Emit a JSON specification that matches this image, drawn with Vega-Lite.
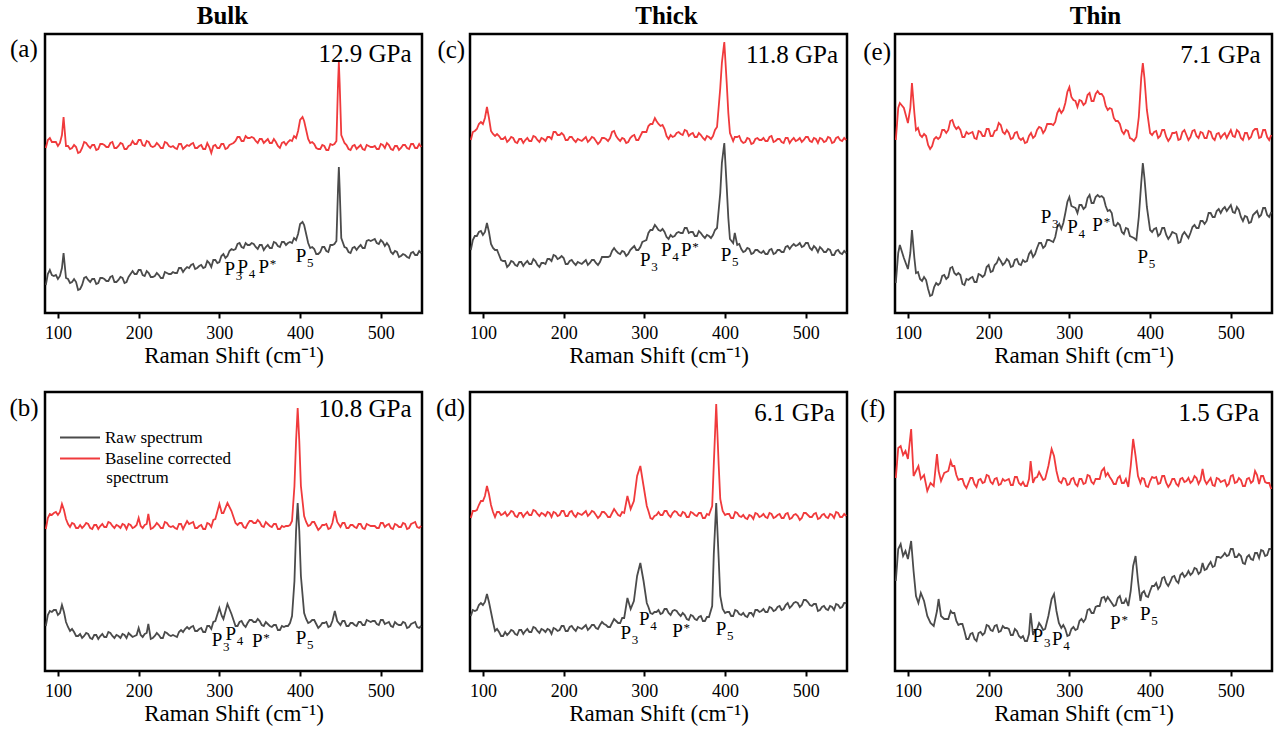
{
"$schema": "https://vega.github.io/schema/vega-lite/v6.json",
"background": "white",
"padding": {"left": 8, "top": 2, "right": 5, "bottom": 5},
"config": {
  "font": "Liberation Serif",
  "view": {"stroke": "black", "strokeWidth": 2.5},
  "axis": {"labelFont": "Liberation Serif", "titleFont": "Liberation Serif"},
  "axisX": {"domain": false, "grid": false, "tickSize": 5, "tickWidth": 2, "tickColor": "black", "labelFontSize": 18, "labelColor": "black", "labelPadding": 6, "titleFontSize": 23, "titleFontWeight": "normal", "titleColor": "black", "titlePadding": 2, "labelFlush": false, "labelOverlap": false},
  "legend": {"labelFont": "Liberation Serif", "titleFont": "Liberation Serif"},
  "title": {"font": "Liberation Serif", "fontSize": 25, "fontWeight": "bold", "offset": 5, "color": "black"},
  "text": {"color": "black", "font": "Liberation Serif"}
},
"datasets": {
"spec": [
{"p":"a","x":85,"r":28,"c":165},{"p":"a","x":90,"r":43,"c":175},{"p":"a","x":95,"r":37,"c":171},{"p":"a","x":100,"r":34,"c":167},{"p":"a","x":105,"r":45,"c":178},{"p":"a","x":107,"r":60,"c":196},{"p":"a","x":110,"r":35,"c":167},{"p":"a","x":115,"r":30,"c":164},{"p":"a","x":120,"r":34,"c":168},{"p":"a","x":125,"r":23,"c":160},{"p":"a","x":130,"r":28,"c":165},{"p":"a","x":135,"r":36,"c":170},{"p":"a","x":140,"r":31,"c":165},{"p":"a","x":145,"r":34,"c":168},{"p":"a","x":150,"r":30,"c":164},{"p":"a","x":155,"r":35,"c":169},{"p":"a","x":160,"r":32,"c":166},{"p":"a","x":165,"r":36,"c":170},{"p":"a","x":170,"r":31,"c":165},{"p":"a","x":175,"r":33,"c":167},{"p":"a","x":180,"r":35,"c":169},{"p":"a","x":185,"r":31,"c":164},{"p":"a","x":190,"r":39,"c":168},{"p":"a","x":195,"r":39,"c":169},{"p":"a","x":200,"r":43,"c":173},{"p":"a","x":205,"r":38,"c":168},{"p":"a","x":210,"r":42,"c":172},{"p":"a","x":215,"r":36,"c":167},{"p":"a","x":220,"r":37,"c":167},{"p":"a","x":225,"r":38,"c":168},{"p":"a","x":230,"r":35,"c":165},{"p":"a","x":235,"r":40,"c":170},{"p":"a","x":240,"r":39,"c":166},{"p":"a","x":245,"r":40,"c":165},{"p":"a","x":250,"r":45,"c":169},{"p":"a","x":255,"r":41,"c":164},{"p":"a","x":260,"r":46,"c":168},{"p":"a","x":265,"r":48,"c":169},{"p":"a","x":270,"r":44,"c":165},{"p":"a","x":275,"r":47,"c":167},{"p":"a","x":280,"r":45,"c":164},{"p":"a","x":285,"r":52,"c":170},{"p":"a","x":290,"r":46,"c":160},{"p":"a","x":295,"r":53,"c":168},{"p":"a","x":300,"r":51,"c":165},{"p":"a","x":305,"r":59,"c":169},{"p":"a","x":310,"r":57,"c":165},{"p":"a","x":315,"r":64,"c":169},{"p":"a","x":320,"r":64,"c":172},{"p":"a","x":325,"r":70,"c":176},{"p":"a","x":330,"r":65,"c":172},{"p":"a","x":335,"r":68,"c":175},{"p":"a","x":340,"r":70,"c":176},{"p":"a","x":345,"r":66,"c":172},{"p":"a","x":350,"r":68,"c":174},{"p":"a","x":355,"r":63,"c":170},{"p":"a","x":360,"r":68,"c":174},{"p":"a","x":365,"r":65,"c":170},{"p":"a","x":370,"r":70,"c":171},{"p":"a","x":375,"r":66,"c":165},{"p":"a","x":380,"r":71,"c":171},{"p":"a","x":385,"r":70,"c":171},{"p":"a","x":390,"r":70,"c":172},{"p":"a","x":395,"r":73,"c":175},{"p":"a","x":400,"r":89,"c":193},{"p":"a","x":403,"r":91,"c":196},{"p":"a","x":405,"r":88,"c":192},{"p":"a","x":410,"r":70,"c":174},{"p":"a","x":415,"r":66,"c":171},{"p":"a","x":420,"r":59,"c":165},{"p":"a","x":425,"r":61,"c":164},{"p":"a","x":430,"r":66,"c":167},{"p":"a","x":435,"r":61,"c":163},{"p":"a","x":440,"r":68,"c":168},{"p":"a","x":445,"r":72,"c":172},{"p":"a","x":447,"r":125,"c":230},{"p":"a","x":448,"r":146,"c":251},{"p":"a","x":449,"r":125,"c":230},{"p":"a","x":451,"r":75,"c":178},{"p":"a","x":455,"r":66,"c":170},{"p":"a","x":460,"r":61,"c":164},{"p":"a","x":465,"r":65,"c":167},{"p":"a","x":470,"r":63,"c":164},{"p":"a","x":475,"r":68,"c":168},{"p":"a","x":480,"r":65,"c":163},{"p":"a","x":485,"r":73,"c":167},{"p":"a","x":490,"r":73,"c":166},{"p":"a","x":495,"r":70,"c":164},{"p":"a","x":500,"r":73,"c":169},{"p":"a","x":505,"r":67,"c":165},{"p":"a","x":510,"r":67,"c":168},{"p":"a","x":515,"r":59,"c":163},{"p":"a","x":520,"r":61,"c":167},{"p":"a","x":525,"r":57,"c":165},{"p":"a","x":530,"r":58,"c":168},{"p":"a","x":535,"r":55,"c":164},{"p":"a","x":540,"r":61,"c":169},{"p":"a","x":545,"r":58,"c":165},{"p":"a","x":550,"r":60,"c":166},
{"p":"a","x":87.5,"r":39,"c":173},{"p":"a","x":92.5,"r":38,"c":171},{"p":"a","x":97.5,"r":38,"c":171},{"p":"a","x":102.5,"r":37,"c":170},{"p":"a","x":112.5,"r":34,"c":167},{"p":"a","x":117.5,"r":31,"c":165},{"p":"a","x":122.5,"r":31,"c":166},{"p":"a","x":127.5,"r":24,"c":161},{"p":"a","x":132.5,"r":35,"c":171},{"p":"a","x":137.5,"r":33,"c":167},{"p":"a","x":142.5,"r":34,"c":168},{"p":"a","x":147.5,"r":29,"c":163},{"p":"a","x":152.5,"r":35,"c":169},{"p":"a","x":157.5,"r":34,"c":168},{"p":"a","x":162.5,"r":32,"c":166},{"p":"a","x":167.5,"r":37,"c":171},{"p":"a","x":172.5,"r":31,"c":165},{"p":"a","x":177.5,"r":36,"c":170},{"p":"a","x":182.5,"r":30,"c":164},{"p":"a","x":187.5,"r":36,"c":167},{"p":"a","x":192.5,"r":42,"c":172},{"p":"a","x":197.5,"r":39,"c":169},{"p":"a","x":202.5,"r":43,"c":173},{"p":"a","x":207.5,"r":37,"c":167},{"p":"a","x":212.5,"r":40,"c":171},{"p":"a","x":217.5,"r":36,"c":166},{"p":"a","x":222.5,"r":40,"c":170},{"p":"a","x":227.5,"r":35,"c":165},{"p":"a","x":232.5,"r":41,"c":171},{"p":"a","x":237.5,"r":39,"c":167},{"p":"a","x":242.5,"r":41,"c":167},{"p":"a","x":247.5,"r":40,"c":164},{"p":"a","x":252.5,"r":45,"c":169},{"p":"a","x":257.5,"r":44,"c":166},{"p":"a","x":262.5,"r":45,"c":167},{"p":"a","x":267.5,"r":49,"c":170},{"p":"a","x":272.5,"r":45,"c":165},{"p":"a","x":277.5,"r":48,"c":168},{"p":"a","x":282.5,"r":46,"c":164},{"p":"a","x":287.5,"r":50,"c":166},{"p":"a","x":292.5,"r":53,"c":167},{"p":"a","x":297.5,"r":50,"c":165},{"p":"a","x":302.5,"r":57,"c":169},{"p":"a","x":307.5,"r":55,"c":164},{"p":"a","x":312.5,"r":62,"c":168},{"p":"a","x":317.5,"r":63,"c":170},{"p":"a","x":322.5,"r":69,"c":176},{"p":"a","x":327.5,"r":66,"c":172},{"p":"a","x":332.5,"r":70,"c":177},{"p":"a","x":337.5,"r":68,"c":175},{"p":"a","x":342.5,"r":69,"c":175},{"p":"a","x":347.5,"r":64,"c":170},{"p":"a","x":352.5,"r":68,"c":174},{"p":"a","x":357.5,"r":66,"c":172},{"p":"a","x":362.5,"r":65,"c":170},{"p":"a","x":367.5,"r":71,"c":174},{"p":"a","x":372.5,"r":67,"c":167},{"p":"a","x":377.5,"r":71,"c":170},{"p":"a","x":382.5,"r":68,"c":168},{"p":"a","x":387.5,"r":71,"c":173},{"p":"a","x":392.5,"r":75,"c":177},{"p":"a","x":397.5,"r":79,"c":182},{"p":"a","x":407.5,"r":79,"c":183},{"p":"a","x":412.5,"r":65,"c":170},{"p":"a","x":417.5,"r":64,"c":169},{"p":"a","x":422.5,"r":59,"c":164},{"p":"a","x":427.5,"r":66,"c":168},{"p":"a","x":432.5,"r":62,"c":163},{"p":"a","x":437.5,"r":68,"c":169},{"p":"a","x":442.5,"r":69,"c":169},{"p":"a","x":457.5,"r":65,"c":168},{"p":"a","x":462.5,"r":60,"c":163},{"p":"a","x":467.5,"r":66,"c":168},{"p":"a","x":472.5,"r":66,"c":166},{"p":"a","x":477.5,"r":65,"c":164},{"p":"a","x":482.5,"r":72,"c":168},{"p":"a","x":487.5,"r":72,"c":166},{"p":"a","x":492.5,"r":74,"c":167},{"p":"a","x":497.5,"r":69,"c":164},{"p":"a","x":502.5,"r":71,"c":168},{"p":"a","x":507.5,"r":70,"c":170},{"p":"a","x":512.5,"r":61,"c":164},{"p":"a","x":517.5,"r":62,"c":167},{"p":"a","x":522.5,"r":56,"c":163},{"p":"a","x":527.5,"r":59,"c":168},{"p":"a","x":532.5,"r":56,"c":165},{"p":"a","x":537.5,"r":60,"c":169},{"p":"a","x":542.5,"r":58,"c":165},{"p":"a","x":547.5,"r":62,"c":169},
{"p":"b","x":85,"r":45,"c":142},{"p":"b","x":90,"r":60,"c":157},{"p":"b","x":95,"r":61,"c":158},{"p":"b","x":100,"r":56,"c":156},{"p":"b","x":105,"r":66,"c":167},{"p":"b","x":110,"r":49,"c":152},{"p":"b","x":115,"r":40,"c":144},{"p":"b","x":120,"r":39,"c":147},{"p":"b","x":125,"r":35,"c":143},{"p":"b","x":130,"r":33,"c":143},{"p":"b","x":135,"r":38,"c":148},{"p":"b","x":140,"r":33,"c":143},{"p":"b","x":145,"r":36,"c":146},{"p":"b","x":150,"r":32,"c":142},{"p":"b","x":155,"r":37,"c":147},{"p":"b","x":160,"r":34,"c":144},{"p":"b","x":165,"r":38,"c":148},{"p":"b","x":170,"r":33,"c":143},{"p":"b","x":175,"r":35,"c":145},{"p":"b","x":180,"r":37,"c":147},{"p":"b","x":185,"r":33,"c":142},{"p":"b","x":190,"r":36,"c":146},{"p":"b","x":195,"r":35,"c":144},{"p":"b","x":200,"r":43,"c":153},{"p":"b","x":205,"r":34,"c":143},{"p":"b","x":210,"r":38,"c":147},{"p":"b","x":212,"r":47,"c":157},{"p":"b","x":215,"r":32,"c":142},{"p":"b","x":220,"r":35,"c":145},{"p":"b","x":225,"r":36,"c":146},{"p":"b","x":230,"r":33,"c":143},{"p":"b","x":235,"r":38,"c":148},{"p":"b","x":240,"r":35,"c":144},{"p":"b","x":245,"r":35,"c":143},{"p":"b","x":250,"r":39,"c":147},{"p":"b","x":255,"r":39,"c":142},{"p":"b","x":260,"r":44,"c":150},{"p":"b","x":265,"r":44,"c":148},{"p":"b","x":270,"r":40,"c":143},{"p":"b","x":275,"r":42,"c":145},{"p":"b","x":280,"r":39,"c":142},{"p":"b","x":285,"r":45,"c":148},{"p":"b","x":290,"r":42,"c":144},{"p":"b","x":295,"r":50,"c":152},{"p":"b","x":300,"r":63,"c":167},{"p":"b","x":303,"r":55,"c":158},{"p":"b","x":305,"r":52,"c":158},{"p":"b","x":310,"r":67,"c":168},{"p":"b","x":315,"r":57,"c":160},{"p":"b","x":320,"r":45,"c":148},{"p":"b","x":325,"r":49,"c":148},{"p":"b","x":330,"r":46,"c":144},{"p":"b","x":335,"r":48,"c":147},{"p":"b","x":340,"r":51,"c":150},{"p":"b","x":345,"r":49,"c":148},{"p":"b","x":350,"r":50,"c":149},{"p":"b","x":355,"r":45,"c":144},{"p":"b","x":360,"r":47,"c":147},{"p":"b","x":365,"r":44,"c":144},{"p":"b","x":370,"r":46,"c":147},{"p":"b","x":375,"r":41,"c":142},{"p":"b","x":380,"r":44,"c":144},{"p":"b","x":385,"r":45,"c":145},{"p":"b","x":390,"r":55,"c":150},{"p":"b","x":393,"r":90,"c":185},{"p":"b","x":395,"r":140,"c":230},{"p":"b","x":397,"r":168,"c":263},{"p":"b","x":399,"r":140,"c":230},{"p":"b","x":401,"r":95,"c":185},{"p":"b","x":405,"r":58,"c":155},{"p":"b","x":410,"r":48,"c":145},{"p":"b","x":415,"r":51,"c":149},{"p":"b","x":420,"r":47,"c":145},{"p":"b","x":425,"r":45,"c":143},{"p":"b","x":430,"r":48,"c":146},{"p":"b","x":435,"r":44,"c":142},{"p":"b","x":440,"r":50,"c":148},{"p":"b","x":443,"r":60,"c":160},{"p":"b","x":446,"r":50,"c":149},{"p":"b","x":450,"r":46,"c":144},{"p":"b","x":455,"r":50,"c":148},{"p":"b","x":460,"r":45,"c":143},{"p":"b","x":465,"r":48,"c":146},{"p":"b","x":470,"r":45,"c":143},{"p":"b","x":475,"r":49,"c":147},{"p":"b","x":480,"r":46,"c":142},{"p":"b","x":485,"r":50,"c":146},{"p":"b","x":490,"r":50,"c":145},{"p":"b","x":495,"r":47,"c":143},{"p":"b","x":500,"r":51,"c":148},{"p":"b","x":505,"r":47,"c":144},{"p":"b","x":510,"r":49,"c":147},{"p":"b","x":515,"r":44,"c":142},{"p":"b","x":520,"r":47,"c":146},{"p":"b","x":525,"r":46,"c":144},{"p":"b","x":530,"r":48,"c":147},{"p":"b","x":535,"r":44,"c":143},{"p":"b","x":540,"r":48,"c":148},{"p":"b","x":545,"r":44,"c":144},{"p":"b","x":550,"r":45,"c":145},
{"p":"b","x":87.5,"r":56,"c":153},{"p":"b","x":92.5,"r":59,"c":156},{"p":"b","x":97.5,"r":61,"c":159},{"p":"b","x":102.5,"r":58,"c":159},{"p":"b","x":107.5,"r":59,"c":161},{"p":"b","x":112.5,"r":44,"c":147},{"p":"b","x":117.5,"r":42,"c":148},{"p":"b","x":122.5,"r":35,"c":143},{"p":"b","x":127.5,"r":37,"c":146},{"p":"b","x":132.5,"r":35,"c":145},{"p":"b","x":137.5,"r":37,"c":147},{"p":"b","x":142.5,"r":32,"c":142},{"p":"b","x":147.5,"r":36,"c":146},{"p":"b","x":152.5,"r":35,"c":145},{"p":"b","x":157.5,"r":34,"c":144},{"p":"b","x":162.5,"r":39,"c":149},{"p":"b","x":167.5,"r":35,"c":145},{"p":"b","x":172.5,"r":36,"c":146},{"p":"b","x":177.5,"r":33,"c":143},{"p":"b","x":182.5,"r":36,"c":146},{"p":"b","x":187.5,"r":38,"c":147},{"p":"b","x":192.5,"r":34,"c":143},{"p":"b","x":197.5,"r":36,"c":146},{"p":"b","x":202.5,"r":36,"c":145},{"p":"b","x":207.5,"r":37,"c":146},{"p":"b","x":217.5,"r":33,"c":143},{"p":"b","x":222.5,"r":38,"c":148},{"p":"b","x":227.5,"r":33,"c":143},{"p":"b","x":232.5,"r":39,"c":149},{"p":"b","x":237.5,"r":36,"c":145},{"p":"b","x":242.5,"r":36,"c":145},{"p":"b","x":247.5,"r":34,"c":142},{"p":"b","x":252.5,"r":41,"c":147},{"p":"b","x":257.5,"r":42,"c":146},{"p":"b","x":262.5,"r":42,"c":147},{"p":"b","x":267.5,"r":45,"c":149},{"p":"b","x":272.5,"r":40,"c":143},{"p":"b","x":277.5,"r":43,"c":146},{"p":"b","x":282.5,"r":39,"c":142},{"p":"b","x":287.5,"r":45,"c":147},{"p":"b","x":292.5,"r":49,"c":151},{"p":"b","x":322.5,"r":45,"c":146},{"p":"b","x":327.5,"r":50,"c":148},{"p":"b","x":332.5,"r":44,"c":143},{"p":"b","x":337.5,"r":51,"c":150},{"p":"b","x":342.5,"r":49,"c":148},{"p":"b","x":347.5,"r":52,"c":151},{"p":"b","x":352.5,"r":46,"c":145},{"p":"b","x":357.5,"r":49,"c":149},{"p":"b","x":362.5,"r":45,"c":145},{"p":"b","x":367.5,"r":46,"c":147},{"p":"b","x":372.5,"r":41,"c":142},{"p":"b","x":377.5,"r":45,"c":145},{"p":"b","x":382.5,"r":45,"c":145},{"p":"b","x":387.5,"r":48,"c":146},{"p":"b","x":407.5,"r":52,"c":149},{"p":"b","x":412.5,"r":49,"c":146},{"p":"b","x":417.5,"r":51,"c":149},{"p":"b","x":422.5,"r":43,"c":141},{"p":"b","x":427.5,"r":48,"c":146},{"p":"b","x":432.5,"r":49,"c":147},{"p":"b","x":437.5,"r":45,"c":143},{"p":"b","x":452.5,"r":50,"c":148},{"p":"b","x":457.5,"r":45,"c":143},{"p":"b","x":462.5,"r":48,"c":146},{"p":"b","x":467.5,"r":46,"c":144},{"p":"b","x":472.5,"r":49,"c":147},{"p":"b","x":477.5,"r":46,"c":143},{"p":"b","x":482.5,"r":51,"c":147},{"p":"b","x":487.5,"r":49,"c":145},{"p":"b","x":492.5,"r":50,"c":145},{"p":"b","x":497.5,"r":46,"c":143},{"p":"b","x":502.5,"r":51,"c":148},{"p":"b","x":507.5,"r":48,"c":146},{"p":"b","x":512.5,"r":45,"c":143},{"p":"b","x":517.5,"r":49,"c":147},{"p":"b","x":522.5,"r":46,"c":144},{"p":"b","x":527.5,"r":49,"c":148},{"p":"b","x":532.5,"r":43,"c":142},{"p":"b","x":537.5,"r":47,"c":147},{"p":"b","x":542.5,"r":49,"c":149},{"p":"b","x":547.5,"r":43,"c":143},
{"p":"c","x":85,"r":63,"c":173},{"p":"c","x":90,"r":77,"c":182},{"p":"c","x":95,"r":81,"c":189},{"p":"c","x":100,"r":78,"c":189},{"p":"c","x":105,"r":90,"c":206},{"p":"c","x":110,"r":69,"c":182},{"p":"c","x":115,"r":63,"c":177},{"p":"c","x":120,"r":58,"c":177},{"p":"c","x":125,"r":52,"c":174},{"p":"c","x":130,"r":46,"c":171},{"p":"c","x":135,"r":52,"c":176},{"p":"c","x":140,"r":48,"c":171},{"p":"c","x":145,"r":51,"c":174},{"p":"c","x":150,"r":47,"c":170},{"p":"c","x":155,"r":52,"c":175},{"p":"c","x":160,"r":49,"c":172},{"p":"c","x":165,"r":52,"c":176},{"p":"c","x":170,"r":46,"c":171},{"p":"c","x":175,"r":50,"c":174},{"p":"c","x":180,"r":54,"c":176},{"p":"c","x":185,"r":52,"c":174},{"p":"c","x":190,"r":57,"c":181},{"p":"c","x":195,"r":55,"c":178},{"p":"c","x":200,"r":55,"c":178},{"p":"c","x":205,"r":49,"c":173},{"p":"c","x":210,"r":53,"c":176},{"p":"c","x":215,"r":48,"c":171},{"p":"c","x":220,"r":50,"c":173},{"p":"c","x":225,"r":51,"c":174},{"p":"c","x":230,"r":48,"c":171},{"p":"c","x":235,"r":53,"c":176},{"p":"c","x":240,"r":50,"c":172},{"p":"c","x":245,"r":51,"c":171},{"p":"c","x":250,"r":56,"c":175},{"p":"c","x":255,"r":56,"c":172},{"p":"c","x":260,"r":62,"c":181},{"p":"c","x":265,"r":62,"c":177},{"p":"c","x":270,"r":59,"c":172},{"p":"c","x":275,"r":61,"c":174},{"p":"c","x":280,"r":59,"c":171},{"p":"c","x":285,"r":65,"c":177},{"p":"c","x":290,"r":63,"c":173},{"p":"c","x":295,"r":66,"c":177},{"p":"c","x":300,"r":72,"c":181},{"p":"c","x":305,"r":80,"c":187},{"p":"c","x":310,"r":83,"c":189},{"p":"c","x":313,"r":88,"c":195},{"p":"c","x":315,"r":86,"c":192},{"p":"c","x":320,"r":82,"c":187},{"p":"c","x":325,"r":81,"c":184},{"p":"c","x":330,"r":74,"c":174},{"p":"c","x":335,"r":76,"c":176},{"p":"c","x":340,"r":80,"c":180},{"p":"c","x":345,"r":80,"c":179},{"p":"c","x":350,"r":85,"c":183},{"p":"c","x":355,"r":80,"c":177},{"p":"c","x":360,"r":81,"c":180},{"p":"c","x":365,"r":77,"c":176},{"p":"c","x":370,"r":80,"c":178},{"p":"c","x":375,"r":75,"c":173},{"p":"c","x":380,"r":77,"c":176},{"p":"c","x":385,"r":78,"c":177},{"p":"c","x":390,"r":85,"c":186},{"p":"c","x":394,"r":120,"c":225},{"p":"c","x":396,"r":150,"c":250},{"p":"c","x":399,"r":170,"c":271},{"p":"c","x":402,"r":126,"c":230},{"p":"c","x":404,"r":95,"c":200},{"p":"c","x":406,"r":74,"c":180},{"p":"c","x":410,"r":70,"c":172},{"p":"c","x":412,"r":80,"c":176},{"p":"c","x":415,"r":68,"c":176},{"p":"c","x":420,"r":64,"c":172},{"p":"c","x":425,"r":62,"c":171},{"p":"c","x":430,"r":64,"c":174},{"p":"c","x":435,"r":60,"c":170},{"p":"c","x":440,"r":63,"c":175},{"p":"c","x":445,"r":60,"c":173},{"p":"c","x":450,"r":59,"c":172},{"p":"c","x":455,"r":63,"c":176},{"p":"c","x":460,"r":59,"c":171},{"p":"c","x":465,"r":63,"c":174},{"p":"c","x":470,"r":61,"c":171},{"p":"c","x":475,"r":66,"c":175},{"p":"c","x":480,"r":64,"c":170},{"p":"c","x":485,"r":69,"c":175},{"p":"c","x":490,"r":68,"c":173},{"p":"c","x":495,"r":66,"c":171},{"p":"c","x":500,"r":70,"c":176},{"p":"c","x":505,"r":65,"c":172},{"p":"c","x":510,"r":67,"c":175},{"p":"c","x":515,"r":61,"c":170},{"p":"c","x":520,"r":64,"c":174},{"p":"c","x":525,"r":61,"c":172},{"p":"c","x":530,"r":63,"c":175},{"p":"c","x":535,"r":58,"c":171},{"p":"c","x":540,"r":63,"c":176},{"p":"c","x":545,"r":59,"c":172},{"p":"c","x":550,"r":60,"c":173},
{"p":"c","x":87.5,"r":73,"c":181},{"p":"c","x":92.5,"r":77,"c":184},{"p":"c","x":97.5,"r":82,"c":191},{"p":"c","x":102.5,"r":81,"c":195},{"p":"c","x":107.5,"r":81,"c":195},{"p":"c","x":112.5,"r":65,"c":179},{"p":"c","x":117.5,"r":63,"c":179},{"p":"c","x":122.5,"r":53,"c":174},{"p":"c","x":127.5,"r":52,"c":176},{"p":"c","x":132.5,"r":48,"c":173},{"p":"c","x":137.5,"r":51,"c":175},{"p":"c","x":142.5,"r":47,"c":170},{"p":"c","x":147.5,"r":51,"c":174},{"p":"c","x":152.5,"r":50,"c":173},{"p":"c","x":157.5,"r":49,"c":172},{"p":"c","x":162.5,"r":54,"c":177},{"p":"c","x":167.5,"r":48,"c":173},{"p":"c","x":172.5,"r":50,"c":175},{"p":"c","x":177.5,"r":49,"c":172},{"p":"c","x":182.5,"r":54,"c":176},{"p":"c","x":187.5,"r":58,"c":181},{"p":"c","x":192.5,"r":54,"c":178},{"p":"c","x":197.5,"r":57,"c":180},{"p":"c","x":202.5,"r":49,"c":173},{"p":"c","x":207.5,"r":52,"c":176},{"p":"c","x":212.5,"r":50,"c":173},{"p":"c","x":217.5,"r":51,"c":174},{"p":"c","x":222.5,"r":49,"c":172},{"p":"c","x":227.5,"r":53,"c":176},{"p":"c","x":232.5,"r":50,"c":173},{"p":"c","x":237.5,"r":53,"c":175},{"p":"c","x":242.5,"r":48,"c":169},{"p":"c","x":247.5,"r":56,"c":175},{"p":"c","x":252.5,"r":56,"c":174},{"p":"c","x":257.5,"r":57,"c":175},{"p":"c","x":262.5,"r":65,"c":182},{"p":"c","x":267.5,"r":60,"c":174},{"p":"c","x":272.5,"r":62,"c":175},{"p":"c","x":277.5,"r":57,"c":170},{"p":"c","x":282.5,"r":63,"c":175},{"p":"c","x":287.5,"r":67,"c":178},{"p":"c","x":292.5,"r":63,"c":173},{"p":"c","x":297.5,"r":71,"c":181},{"p":"c","x":302.5,"r":73,"c":181},{"p":"c","x":307.5,"r":83,"c":189},{"p":"c","x":317.5,"r":83,"c":189},{"p":"c","x":322.5,"r":84,"c":188},{"p":"c","x":327.5,"r":76,"c":177},{"p":"c","x":332.5,"r":78,"c":178},{"p":"c","x":337.5,"r":77,"c":177},{"p":"c","x":342.5,"r":81,"c":181},{"p":"c","x":347.5,"r":80,"c":178},{"p":"c","x":352.5,"r":85,"c":182},{"p":"c","x":357.5,"r":81,"c":179},{"p":"c","x":362.5,"r":77,"c":176},{"p":"c","x":367.5,"r":82,"c":180},{"p":"c","x":372.5,"r":77,"c":175},{"p":"c","x":377.5,"r":78,"c":177},{"p":"c","x":382.5,"r":75,"c":174},{"p":"c","x":387.5,"r":83,"c":183},{"p":"c","x":417.5,"r":69,"c":177},{"p":"c","x":422.5,"r":61,"c":170},{"p":"c","x":427.5,"r":65,"c":175},{"p":"c","x":432.5,"r":59,"c":169},{"p":"c","x":437.5,"r":63,"c":174},{"p":"c","x":442.5,"r":61,"c":173},{"p":"c","x":447.5,"r":62,"c":175},{"p":"c","x":452.5,"r":59,"c":172},{"p":"c","x":457.5,"r":64,"c":177},{"p":"c","x":462.5,"r":60,"c":172},{"p":"c","x":467.5,"r":63,"c":174},{"p":"c","x":472.5,"r":61,"c":170},{"p":"c","x":477.5,"r":67,"c":175},{"p":"c","x":482.5,"r":67,"c":173},{"p":"c","x":487.5,"r":67,"c":172},{"p":"c","x":492.5,"r":70,"c":175},{"p":"c","x":497.5,"r":67,"c":173},{"p":"c","x":502.5,"r":70,"c":176},{"p":"c","x":507.5,"r":63,"c":171},{"p":"c","x":512.5,"r":65,"c":174},{"p":"c","x":517.5,"r":66,"c":175},{"p":"c","x":522.5,"r":61,"c":171},{"p":"c","x":527.5,"r":64,"c":176},{"p":"c","x":532.5,"r":58,"c":170},{"p":"c","x":537.5,"r":62,"c":175},{"p":"c","x":542.5,"r":60,"c":173},{"p":"c","x":547.5,"r":62,"c":175},
{"p":"d","x":85,"r":55,"c":153},{"p":"d","x":90,"r":60,"c":160},{"p":"d","x":95,"r":66,"c":166},{"p":"d","x":100,"r":66,"c":170},{"p":"d","x":105,"r":77,"c":185},{"p":"d","x":110,"r":59,"c":166},{"p":"d","x":115,"r":40,"c":154},{"p":"d","x":120,"r":39,"c":159},{"p":"d","x":125,"r":35,"c":157},{"p":"d","x":130,"r":36,"c":155},{"p":"d","x":135,"r":41,"c":160},{"p":"d","x":140,"r":37,"c":155},{"p":"d","x":145,"r":41,"c":158},{"p":"d","x":150,"r":37,"c":154},{"p":"d","x":155,"r":42,"c":159},{"p":"d","x":160,"r":39,"c":156},{"p":"d","x":165,"r":43,"c":160},{"p":"d","x":170,"r":38,"c":155},{"p":"d","x":175,"r":41,"c":157},{"p":"d","x":180,"r":42,"c":159},{"p":"d","x":185,"r":37,"c":154},{"p":"d","x":190,"r":42,"c":158},{"p":"d","x":195,"r":41,"c":156},{"p":"d","x":200,"r":45,"c":160},{"p":"d","x":205,"r":40,"c":155},{"p":"d","x":210,"r":45,"c":160},{"p":"d","x":215,"r":40,"c":154},{"p":"d","x":220,"r":43,"c":157},{"p":"d","x":225,"r":44,"c":158},{"p":"d","x":230,"r":41,"c":155},{"p":"d","x":235,"r":46,"c":160},{"p":"d","x":240,"r":43,"c":156},{"p":"d","x":245,"r":46,"c":155},{"p":"d","x":250,"r":47,"c":159},{"p":"d","x":255,"r":44,"c":154},{"p":"d","x":260,"r":48,"c":158},{"p":"d","x":265,"r":50,"c":159},{"p":"d","x":270,"r":48,"c":155},{"p":"d","x":275,"r":53,"c":158},{"p":"d","x":279,"r":73,"c":175},{"p":"d","x":283,"r":62,"c":162},{"p":"d","x":287,"r":70,"c":170},{"p":"d","x":291,"r":95,"c":195},{"p":"d","x":295,"r":108,"c":205},{"p":"d","x":299,"r":90,"c":185},{"p":"d","x":303,"r":68,"c":165},{"p":"d","x":305,"r":64,"c":160},{"p":"d","x":310,"r":57,"c":152},{"p":"d","x":315,"r":59,"c":156},{"p":"d","x":320,"r":57,"c":156},{"p":"d","x":325,"r":62,"c":160},{"p":"d","x":330,"r":58,"c":156},{"p":"d","x":335,"r":60,"c":158},{"p":"d","x":340,"r":60,"c":159},{"p":"d","x":345,"r":55,"c":155},{"p":"d","x":350,"r":56,"c":158},{"p":"d","x":355,"r":51,"c":154},{"p":"d","x":360,"r":55,"c":158},{"p":"d","x":365,"r":51,"c":155},{"p":"d","x":370,"r":55,"c":158},{"p":"d","x":375,"r":50,"c":153},{"p":"d","x":380,"r":54,"c":156},{"p":"d","x":384,"r":65,"c":165},{"p":"d","x":386,"r":117,"c":207},{"p":"d","x":389,"r":168,"c":267},{"p":"d","x":392,"r":113,"c":207},{"p":"d","x":394,"r":75,"c":172},{"p":"d","x":397,"r":62,"c":160},{"p":"d","x":400,"r":58,"c":156},{"p":"d","x":405,"r":59,"c":157},{"p":"d","x":410,"r":55,"c":153},{"p":"d","x":415,"r":60,"c":158},{"p":"d","x":420,"r":56,"c":154},{"p":"d","x":425,"r":55,"c":153},{"p":"d","x":430,"r":58,"c":156},{"p":"d","x":435,"r":55,"c":152},{"p":"d","x":440,"r":61,"c":157},{"p":"d","x":445,"r":60,"c":155},{"p":"d","x":450,"r":59,"c":154},{"p":"d","x":455,"r":64,"c":158},{"p":"d","x":460,"r":60,"c":153},{"p":"d","x":465,"r":64,"c":156},{"p":"d","x":470,"r":61,"c":153},{"p":"d","x":475,"r":66,"c":157},{"p":"d","x":480,"r":63,"c":152},{"p":"d","x":485,"r":68,"c":156},{"p":"d","x":490,"r":68,"c":155},{"p":"d","x":495,"r":66,"c":153},{"p":"d","x":500,"r":71,"c":158},{"p":"d","x":505,"r":66,"c":154},{"p":"d","x":510,"r":67,"c":157},{"p":"d","x":515,"r":60,"c":152},{"p":"d","x":520,"r":64,"c":156},{"p":"d","x":525,"r":62,"c":154},{"p":"d","x":530,"r":65,"c":157},{"p":"d","x":535,"r":61,"c":153},{"p":"d","x":540,"r":66,"c":158},{"p":"d","x":545,"r":64,"c":154},{"p":"d","x":550,"r":68,"c":155},
{"p":"d","x":87.5,"r":61,"c":160},{"p":"d","x":92.5,"r":61,"c":161},{"p":"d","x":97.5,"r":68,"c":170},{"p":"d","x":102.5,"r":69,"c":175},{"p":"d","x":107.5,"r":69,"c":177},{"p":"d","x":112.5,"r":49,"c":159},{"p":"d","x":117.5,"r":42,"c":159},{"p":"d","x":122.5,"r":35,"c":156},{"p":"d","x":127.5,"r":39,"c":159},{"p":"d","x":132.5,"r":38,"c":157},{"p":"d","x":137.5,"r":40,"c":159},{"p":"d","x":142.5,"r":36,"c":154},{"p":"d","x":147.5,"r":41,"c":158},{"p":"d","x":152.5,"r":40,"c":157},{"p":"d","x":157.5,"r":39,"c":156},{"p":"d","x":162.5,"r":44,"c":161},{"p":"d","x":167.5,"r":40,"c":157},{"p":"d","x":172.5,"r":42,"c":158},{"p":"d","x":177.5,"r":39,"c":155},{"p":"d","x":182.5,"r":41,"c":158},{"p":"d","x":187.5,"r":43,"c":159},{"p":"d","x":192.5,"r":40,"c":155},{"p":"d","x":197.5,"r":45,"c":160},{"p":"d","x":202.5,"r":40,"c":155},{"p":"d","x":207.5,"r":44,"c":159},{"p":"d","x":212.5,"r":42,"c":156},{"p":"d","x":217.5,"r":44,"c":158},{"p":"d","x":222.5,"r":42,"c":156},{"p":"d","x":227.5,"r":46,"c":160},{"p":"d","x":232.5,"r":43,"c":157},{"p":"d","x":237.5,"r":46,"c":159},{"p":"d","x":242.5,"r":42,"c":153},{"p":"d","x":247.5,"r":49,"c":159},{"p":"d","x":252.5,"r":46,"c":157},{"p":"d","x":257.5,"r":44,"c":154},{"p":"d","x":262.5,"r":52,"c":162},{"p":"d","x":267.5,"r":48,"c":156},{"p":"d","x":272.5,"r":53,"c":159},{"p":"d","x":307.5,"r":58,"c":153},{"p":"d","x":312.5,"r":59,"c":155},{"p":"d","x":317.5,"r":61,"c":159},{"p":"d","x":322.5,"r":58,"c":156},{"p":"d","x":327.5,"r":62,"c":160},{"p":"d","x":332.5,"r":56,"c":154},{"p":"d","x":337.5,"r":61,"c":160},{"p":"d","x":342.5,"r":57,"c":156},{"p":"d","x":347.5,"r":58,"c":159},{"p":"d","x":352.5,"r":52,"c":154},{"p":"d","x":357.5,"r":56,"c":159},{"p":"d","x":362.5,"r":52,"c":156},{"p":"d","x":367.5,"r":54,"c":158},{"p":"d","x":372.5,"r":50,"c":153},{"p":"d","x":377.5,"r":54,"c":157},{"p":"d","x":402.5,"r":59,"c":157},{"p":"d","x":407.5,"r":55,"c":153},{"p":"d","x":412.5,"r":61,"c":159},{"p":"d","x":417.5,"r":57,"c":155},{"p":"d","x":422.5,"r":58,"c":156},{"p":"d","x":427.5,"r":54,"c":152},{"p":"d","x":432.5,"r":58,"c":155},{"p":"d","x":437.5,"r":61,"c":158},{"p":"d","x":442.5,"r":59,"c":154},{"p":"d","x":447.5,"r":62,"c":157},{"p":"d","x":452.5,"r":59,"c":153},{"p":"d","x":457.5,"r":63,"c":157},{"p":"d","x":462.5,"r":61,"c":154},{"p":"d","x":467.5,"r":65,"c":157},{"p":"d","x":472.5,"r":62,"c":153},{"p":"d","x":477.5,"r":68,"c":158},{"p":"d","x":482.5,"r":65,"c":153},{"p":"d","x":487.5,"r":69,"c":157},{"p":"d","x":492.5,"r":64,"c":151},{"p":"d","x":497.5,"r":71,"c":158},{"p":"d","x":502.5,"r":69,"c":156},{"p":"d","x":507.5,"r":65,"c":154},{"p":"d","x":512.5,"r":67,"c":158},{"p":"d","x":517.5,"r":61,"c":153},{"p":"d","x":522.5,"r":65,"c":157},{"p":"d","x":527.5,"r":61,"c":153},{"p":"d","x":532.5,"r":64,"c":156},{"p":"d","x":537.5,"r":67,"c":159},{"p":"d","x":542.5,"r":63,"c":154},{"p":"d","x":547.5,"r":68,"c":157},
{"p":"e","x":85,"r":30,"c":173},{"p":"e","x":88,"r":60,"c":205},{"p":"e","x":90,"r":68,"c":210},{"p":"e","x":95,"r":55,"c":205},{"p":"e","x":100,"r":44,"c":190},{"p":"e","x":103,"r":60,"c":205},{"p":"e","x":105,"r":83,"c":230},{"p":"e","x":108,"r":55,"c":200},{"p":"e","x":110,"r":40,"c":183},{"p":"e","x":115,"r":34,"c":178},{"p":"e","x":120,"r":36,"c":179},{"p":"e","x":125,"r":24,"c":168},{"p":"e","x":130,"r":18,"c":167},{"p":"e","x":135,"r":30,"c":176},{"p":"e","x":140,"r":30,"c":176},{"p":"e","x":145,"r":38,"c":183},{"p":"e","x":150,"r":36,"c":183},{"p":"e","x":155,"r":46,"c":193},{"p":"e","x":160,"r":38,"c":184},{"p":"e","x":165,"r":38,"c":183},{"p":"e","x":170,"r":28,"c":176},{"p":"e","x":175,"r":33,"c":179},{"p":"e","x":180,"r":36,"c":181},{"p":"e","x":185,"r":31,"c":174},{"p":"e","x":190,"r":38,"c":181},{"p":"e","x":195,"r":38,"c":177},{"p":"e","x":200,"r":48,"c":184},{"p":"e","x":205,"r":42,"c":177},{"p":"e","x":210,"r":50,"c":183},{"p":"e","x":215,"r":52,"c":188},{"p":"e","x":220,"r":50,"c":179},{"p":"e","x":225,"r":52,"c":180},{"p":"e","x":230,"r":47,"c":175},{"p":"e","x":235,"r":54,"c":181},{"p":"e","x":240,"r":48,"c":173},{"p":"e","x":245,"r":51,"c":170},{"p":"e","x":250,"r":59,"c":177},{"p":"e","x":255,"r":56,"c":175},{"p":"e","x":260,"r":65,"c":183},{"p":"e","x":265,"r":70,"c":185},{"p":"e","x":270,"r":67,"c":183},{"p":"e","x":275,"r":73,"c":189},{"p":"e","x":280,"r":71,"c":188},{"p":"e","x":285,"r":86,"c":200},{"p":"e","x":290,"r":84,"c":200},{"p":"e","x":295,"r":100,"c":210},{"p":"e","x":300,"r":116,"c":226},{"p":"e","x":305,"r":106,"c":213},{"p":"e","x":310,"r":100,"c":206},{"p":"e","x":315,"r":108,"c":212},{"p":"e","x":320,"r":106,"c":210},{"p":"e","x":325,"r":118,"c":220},{"p":"e","x":330,"r":110,"c":212},{"p":"e","x":335,"r":118,"c":222},{"p":"e","x":340,"r":117,"c":219},{"p":"e","x":345,"r":107,"c":207},{"p":"e","x":350,"r":103,"c":205},{"p":"e","x":355,"r":88,"c":195},{"p":"e","x":360,"r":90,"c":192},{"p":"e","x":365,"r":81,"c":182},{"p":"e","x":370,"r":85,"c":183},{"p":"e","x":375,"r":77,"c":175},{"p":"e","x":380,"r":75,"c":172},{"p":"e","x":383,"r":73,"c":176},{"p":"e","x":386,"r":96,"c":196},{"p":"e","x":389,"r":130,"c":235},{"p":"e","x":391,"r":150,"c":250},{"p":"e","x":393,"r":135,"c":235},{"p":"e","x":396,"r":106,"c":203},{"p":"e","x":400,"r":83,"c":180},{"p":"e","x":405,"r":84,"c":181},{"p":"e","x":410,"r":77,"c":175},{"p":"e","x":415,"r":85,"c":183},{"p":"e","x":420,"r":78,"c":176},{"p":"e","x":425,"r":77,"c":175},{"p":"e","x":430,"r":80,"c":180},{"p":"e","x":435,"r":70,"c":173},{"p":"e","x":440,"r":78,"c":181},{"p":"e","x":445,"r":78,"c":178},{"p":"e","x":450,"r":80,"c":176},{"p":"e","x":455,"r":88,"c":183},{"p":"e","x":460,"r":85,"c":175},{"p":"e","x":465,"r":92,"c":180},{"p":"e","x":470,"r":92,"c":175},{"p":"e","x":475,"r":100,"c":181},{"p":"e","x":480,"r":96,"c":173},{"p":"e","x":485,"r":104,"c":180},{"p":"e","x":490,"r":104,"c":178},{"p":"e","x":495,"r":102,"c":175},{"p":"e","x":500,"r":108,"c":183},{"p":"e","x":505,"r":100,"c":176},{"p":"e","x":510,"r":103,"c":181},{"p":"e","x":515,"r":92,"c":173},{"p":"e","x":520,"r":96,"c":180},{"p":"e","x":525,"r":91,"c":176},{"p":"e","x":530,"r":100,"c":184},{"p":"e","x":535,"r":96,"c":175},{"p":"e","x":540,"r":105,"c":183},{"p":"e","x":545,"r":98,"c":176},{"p":"e","x":550,"r":101,"c":178},
{"p":"e","x":112.5,"r":41,"c":185},{"p":"e","x":117.5,"r":32,"c":176},{"p":"e","x":122.5,"r":33,"c":177},{"p":"e","x":127.5,"r":17,"c":164},{"p":"e","x":132.5,"r":26,"c":174},{"p":"e","x":137.5,"r":28,"c":174},{"p":"e","x":142.5,"r":37,"c":183},{"p":"e","x":147.5,"r":34,"c":180},{"p":"e","x":152.5,"r":45,"c":192},{"p":"e","x":157.5,"r":40,"c":187},{"p":"e","x":162.5,"r":40,"c":186},{"p":"e","x":167.5,"r":29,"c":176},{"p":"e","x":172.5,"r":34,"c":181},{"p":"e","x":177.5,"r":35,"c":180},{"p":"e","x":182.5,"r":31,"c":175},{"p":"e","x":187.5,"r":39,"c":182},{"p":"e","x":192.5,"r":36,"c":177},{"p":"e","x":197.5,"r":46,"c":184},{"p":"e","x":202.5,"r":41,"c":177},{"p":"e","x":207.5,"r":48,"c":182},{"p":"e","x":212.5,"r":55,"c":190},{"p":"e","x":217.5,"r":48,"c":181},{"p":"e","x":222.5,"r":54,"c":183},{"p":"e","x":227.5,"r":46,"c":174},{"p":"e","x":232.5,"r":53,"c":180},{"p":"e","x":237.5,"r":49,"c":175},{"p":"e","x":242.5,"r":53,"c":175},{"p":"e","x":247.5,"r":52,"c":171},{"p":"e","x":252.5,"r":62,"c":180},{"p":"e","x":257.5,"r":59,"c":177},{"p":"e","x":262.5,"r":70,"c":186},{"p":"e","x":267.5,"r":65,"c":180},{"p":"e","x":272.5,"r":73,"c":189},{"p":"e","x":277.5,"r":72,"c":189},{"p":"e","x":282.5,"r":76,"c":191},{"p":"e","x":287.5,"r":89,"c":204},{"p":"e","x":292.5,"r":90,"c":203},{"p":"e","x":297.5,"r":111,"c":221},{"p":"e","x":302.5,"r":107,"c":216},{"p":"e","x":307.5,"r":105,"c":212},{"p":"e","x":312.5,"r":108,"c":213},{"p":"e","x":317.5,"r":104,"c":208},{"p":"e","x":322.5,"r":115,"c":218},{"p":"e","x":327.5,"r":110,"c":212},{"p":"e","x":332.5,"r":116,"c":219},{"p":"e","x":337.5,"r":116,"c":219},{"p":"e","x":342.5,"r":115,"c":216},{"p":"e","x":347.5,"r":102,"c":203},{"p":"e","x":352.5,"r":100,"c":204},{"p":"e","x":357.5,"r":87,"c":192},{"p":"e","x":362.5,"r":88,"c":189},{"p":"e","x":367.5,"r":79,"c":179},{"p":"e","x":372.5,"r":84,"c":182},{"p":"e","x":377.5,"r":76,"c":174},{"p":"e","x":402.5,"r":81,"c":178},{"p":"e","x":407.5,"r":85,"c":182},{"p":"e","x":412.5,"r":79,"c":177},{"p":"e","x":417.5,"r":85,"c":183},{"p":"e","x":422.5,"r":74,"c":172},{"p":"e","x":427.5,"r":81,"c":180},{"p":"e","x":432.5,"r":79,"c":181},{"p":"e","x":437.5,"r":71,"c":174},{"p":"e","x":442.5,"r":81,"c":183},{"p":"e","x":447.5,"r":75,"c":173},{"p":"e","x":452.5,"r":86,"c":182},{"p":"e","x":457.5,"r":85,"c":177},{"p":"e","x":462.5,"r":92,"c":181},{"p":"e","x":467.5,"r":89,"c":175},{"p":"e","x":472.5,"r":100,"c":182},{"p":"e","x":477.5,"r":96,"c":175},{"p":"e","x":482.5,"r":102,"c":179},{"p":"e","x":487.5,"r":100,"c":175},{"p":"e","x":492.5,"r":106,"c":180},{"p":"e","x":497.5,"r":105,"c":179},{"p":"e","x":502.5,"r":101,"c":177},{"p":"e","x":507.5,"r":106,"c":183},{"p":"e","x":512.5,"r":96,"c":175},{"p":"e","x":517.5,"r":97,"c":180},{"p":"e","x":522.5,"r":90,"c":174},{"p":"e","x":527.5,"r":98,"c":182},{"p":"e","x":532.5,"r":102,"c":184},{"p":"e","x":537.5,"r":98,"c":176},{"p":"e","x":542.5,"r":105,"c":183},{"p":"e","x":547.5,"r":96,"c":173},
{"p":"f","x":85,"r":90,"c":193},{"p":"f","x":88,"r":122,"c":223},{"p":"f","x":91,"r":127,"c":225},{"p":"f","x":94,"r":115,"c":216},{"p":"f","x":97,"r":120,"c":220},{"p":"f","x":100,"r":112,"c":212},{"p":"f","x":104,"r":130,"c":242},{"p":"f","x":107,"r":100,"c":195},{"p":"f","x":110,"r":75,"c":200},{"p":"f","x":113,"r":68,"c":205},{"p":"f","x":116,"r":78,"c":192},{"p":"f","x":120,"r":70,"c":196},{"p":"f","x":124,"r":55,"c":180},{"p":"f","x":128,"r":48,"c":188},{"p":"f","x":132,"r":45,"c":185},{"p":"f","x":136,"r":60,"c":217},{"p":"f","x":138,"r":72,"c":200},{"p":"f","x":141,"r":55,"c":190},{"p":"f","x":145,"r":52,"c":198},{"p":"f","x":150,"r":52,"c":200},{"p":"f","x":153,"r":60,"c":210},{"p":"f","x":155,"r":58,"c":205},{"p":"f","x":160,"r":50,"c":196},{"p":"f","x":165,"r":47,"c":192},{"p":"f","x":170,"r":40,"c":186},{"p":"f","x":175,"r":32,"c":188},{"p":"f","x":180,"r":38,"c":193},{"p":"f","x":185,"r":30,"c":184},{"p":"f","x":190,"r":39,"c":192},{"p":"f","x":195,"r":38,"c":189},{"p":"f","x":200,"r":45,"c":195},{"p":"f","x":205,"r":40,"c":187},{"p":"f","x":210,"r":46,"c":193},{"p":"f","x":215,"r":40,"c":187},{"p":"f","x":220,"r":43,"c":190},{"p":"f","x":225,"r":42,"c":192},{"p":"f","x":230,"r":36,"c":186},{"p":"f","x":235,"r":40,"c":194},{"p":"f","x":240,"r":33,"c":186},{"p":"f","x":245,"r":30,"c":185},{"p":"f","x":250,"r":37,"c":192},{"p":"f","x":252,"r":58,"c":210},{"p":"f","x":255,"r":36,"c":188},{"p":"f","x":260,"r":42,"c":194},{"p":"f","x":265,"r":45,"c":195},{"p":"f","x":270,"r":42,"c":192},{"p":"f","x":274,"r":55,"c":205},{"p":"f","x":278,"r":72,"c":222},{"p":"f","x":281,"r":77,"c":215},{"p":"f","x":284,"r":60,"c":200},{"p":"f","x":287,"r":48,"c":190},{"p":"f","x":290,"r":43,"c":188},{"p":"f","x":295,"r":42,"c":192},{"p":"f","x":300,"r":36,"c":187},{"p":"f","x":305,"r":44,"c":193},{"p":"f","x":310,"r":42,"c":185},{"p":"f","x":315,"r":52,"c":192},{"p":"f","x":320,"r":52,"c":188},{"p":"f","x":325,"r":62,"c":195},{"p":"f","x":330,"r":58,"c":187},{"p":"f","x":335,"r":65,"c":192},{"p":"f","x":340,"r":73,"c":200},{"p":"f","x":343,"r":74,"c":203},{"p":"f","x":345,"r":70,"c":195},{"p":"f","x":350,"r":71,"c":194},{"p":"f","x":355,"r":65,"c":187},{"p":"f","x":360,"r":73,"c":193},{"p":"f","x":365,"r":68,"c":188},{"p":"f","x":370,"r":72,"c":192},{"p":"f","x":373,"r":65,"c":184},{"p":"f","x":376,"r":80,"c":205},{"p":"f","x":379,"r":105,"c":232},{"p":"f","x":382,"r":115,"c":215},{"p":"f","x":385,"r":90,"c":195},{"p":"f","x":388,"r":70,"c":188},{"p":"f","x":390,"r":78,"c":193},{"p":"f","x":395,"r":75,"c":185},{"p":"f","x":400,"r":80,"c":190},{"p":"f","x":405,"r":85,"c":193},{"p":"f","x":410,"r":82,"c":187},{"p":"f","x":415,"r":93,"c":195},{"p":"f","x":420,"r":88,"c":188},{"p":"f","x":425,"r":89,"c":187},{"p":"f","x":430,"r":95,"c":192},{"p":"f","x":435,"r":88,"c":185},{"p":"f","x":440,"r":98,"c":193},{"p":"f","x":445,"r":96,"c":190},{"p":"f","x":450,"r":96,"c":188},{"p":"f","x":455,"r":103,"c":195},{"p":"f","x":460,"r":97,"c":187},{"p":"f","x":465,"r":108,"c":202},{"p":"f","x":470,"r":102,"c":187},{"p":"f","x":475,"r":109,"c":193},{"p":"f","x":480,"r":105,"c":185},{"p":"f","x":485,"r":114,"c":192},{"p":"f","x":490,"r":115,"c":190},{"p":"f","x":495,"r":115,"c":185},{"p":"f","x":500,"r":122,"c":195},{"p":"f","x":505,"r":114,"c":188},{"p":"f","x":510,"r":117,"c":193},{"p":"f","x":515,"r":108,"c":185},{"p":"f","x":520,"r":114,"c":192},{"p":"f","x":525,"r":112,"c":188},{"p":"f","x":530,"r":118,"c":200},{"p":"f","x":535,"r":113,"c":187},{"p":"f","x":540,"r":120,"c":195},{"p":"f","x":545,"r":116,"c":188},{"p":"f","x":550,"r":122,"c":182},
{"p":"f","x":157.5,"r":58,"c":205},{"p":"f","x":162.5,"r":46,"c":191},{"p":"f","x":167.5,"r":47,"c":192},{"p":"f","x":172.5,"r":32,"c":183},{"p":"f","x":177.5,"r":37,"c":193},{"p":"f","x":182.5,"r":32,"c":187},{"p":"f","x":187.5,"r":38,"c":191},{"p":"f","x":192.5,"r":36,"c":188},{"p":"f","x":197.5,"r":46,"c":196},{"p":"f","x":202.5,"r":41,"c":189},{"p":"f","x":207.5,"r":45,"c":192},{"p":"f","x":212.5,"r":39,"c":186},{"p":"f","x":217.5,"r":45,"c":192},{"p":"f","x":222.5,"r":43,"c":191},{"p":"f","x":227.5,"r":36,"c":186},{"p":"f","x":232.5,"r":42,"c":194},{"p":"f","x":237.5,"r":35,"c":188},{"p":"f","x":242.5,"r":35,"c":189},{"p":"f","x":247.5,"r":30,"c":185},{"p":"f","x":257.5,"r":41,"c":193},{"p":"f","x":262.5,"r":48,"c":199},{"p":"f","x":267.5,"r":41,"c":191},{"p":"f","x":292.5,"r":46,"c":193},{"p":"f","x":297.5,"r":35,"c":186},{"p":"f","x":302.5,"r":42,"c":192},{"p":"f","x":307.5,"r":41,"c":187},{"p":"f","x":312.5,"r":50,"c":192},{"p":"f","x":317.5,"r":49,"c":187},{"p":"f","x":322.5,"r":61,"c":196},{"p":"f","x":327.5,"r":58,"c":189},{"p":"f","x":332.5,"r":64,"c":192},{"p":"f","x":337.5,"r":65,"c":192},{"p":"f","x":347.5,"r":74,"c":198},{"p":"f","x":352.5,"r":68,"c":191},{"p":"f","x":357.5,"r":66,"c":187},{"p":"f","x":362.5,"r":75,"c":195},{"p":"f","x":367.5,"r":68,"c":188},{"p":"f","x":392.5,"r":80,"c":192},{"p":"f","x":397.5,"r":74,"c":184},{"p":"f","x":402.5,"r":85,"c":194},{"p":"f","x":407.5,"r":88,"c":194},{"p":"f","x":412.5,"r":85,"c":188},{"p":"f","x":417.5,"r":94,"c":195},{"p":"f","x":422.5,"r":85,"c":184},{"p":"f","x":427.5,"r":94,"c":192},{"p":"f","x":432.5,"r":90,"c":187},{"p":"f","x":437.5,"r":96,"c":192},{"p":"f","x":442.5,"r":94,"c":189},{"p":"f","x":447.5,"r":100,"c":193},{"p":"f","x":452.5,"r":98,"c":190},{"p":"f","x":457.5,"r":102,"c":193},{"p":"f","x":462.5,"r":99,"c":191},{"p":"f","x":467.5,"r":101,"c":191},{"p":"f","x":472.5,"r":106,"c":190},{"p":"f","x":477.5,"r":104,"c":186},{"p":"f","x":482.5,"r":114,"c":193},{"p":"f","x":487.5,"r":113,"c":189},{"p":"f","x":492.5,"r":118,"c":191},{"p":"f","x":497.5,"r":116,"c":187},{"p":"f","x":502.5,"r":122,"c":196},{"p":"f","x":507.5,"r":114,"c":189},{"p":"f","x":512.5,"r":115,"c":191},{"p":"f","x":517.5,"r":107,"c":185},{"p":"f","x":522.5,"r":116,"c":193},{"p":"f","x":527.5,"r":111,"c":190},{"p":"f","x":532.5,"r":118,"c":196},{"p":"f","x":537.5,"r":121,"c":195},{"p":"f","x":542.5,"r":115,"c":189},{"p":"f","x":547.5,"r":122,"c":188}
],
"peaks": [
{"p":"a","x":313,"y":44,"s":"3"},{"p":"a","x":329,"y":46,"s":"4"},{"p":"a","x":355,"y":46,"s":"*"},{"p":"a","x":401,"y":57,"s":"5"},
{"p":"b","x":297,"y":31,"s":"3"},{"p":"b","x":314,"y":37,"s":"4"},{"p":"b","x":347,"y":30,"s":"*"},{"p":"b","x":401,"y":33,"s":"5"},
{"p":"c","x":301,"y":53,"s":"3"},{"p":"c","x":327,"y":63,"s":"4"},{"p":"c","x":352,"y":63,"s":"*"},{"p":"c","x":401,"y":58,"s":"5"},
{"p":"d","x":277,"y":38,"s":"3"},{"p":"d","x":300,"y":52,"s":"4"},{"p":"d","x":341,"y":40,"s":"*"},{"p":"d","x":395,"y":42,"s":"5"},
{"p":"e","x":271,"y":96,"s":"3"},{"p":"e","x":304,"y":86,"s":"4"},{"p":"e","x":335,"y":88,"s":"*"},{"p":"e","x":391,"y":56,"s":"5"},
{"p":"f","x":261,"y":35,"s":"3"},{"p":"f","x":285,"y":32,"s":"4"},{"p":"f","x":357,"y":48,"s":"*"},{"p":"f","x":394,"y":57,"s":"5"}
],
"press": [
{"p":"a","x":538,"y":259,"t":"12.9 GPa"},{"p":"b","x":538,"y":262,"t":"10.8 GPa"},{"p":"c","x":540,"y":258,"t":"11.8 GPa"},{"p":"d","x":536,"y":258,"t":"6.1 GPa"},{"p":"e","x":537,"y":258,"t":"7.1 GPa"},{"p":"f","x":535,"y":258,"t":"1.5 GPa"}
],
"tags": [
{"p":"a","x":75,"y":264,"t":"(a)"},{"p":"b","x":76,"y":263,"t":"(b)"},{"p":"c","x":78,"y":263,"t":"(c)"},{"p":"d","x":78,"y":263,"t":"(d)"},{"p":"e","x":79,"y":261,"t":"(e)"},{"p":"f","x":72,"y":262,"t":"(f)"}
],
"legline": [
{"x":160,"y":193,"t":"spectrum"}
]
},
"columns": 3,
"spacing": {"row": 79, "column": 48},
"bounds": "flush",
"resolve": {"scale": {"color": "independent"}, "legend": {"color": "independent"}},
"concat": [
{"width": 377, "height": 279, "title": {"text": "Bulk", "dx": -11},
 "layer": [
  {"data": {"name": "spec"}, "transform": [{"filter": "datum.p == 'a'"}, {"fold": ["r", "c"], "as": ["s", "v"]}],
   "mark": {"type": "line", "strokeWidth": 1.8, "clip": true},
   "encoding": {
    "x": {"field": "x", "type": "quantitative", "scale": {"domain": [84, 551], "nice": false, "zero": false}, "axis": {"values": [100, 200, 300, 400, 500], "title": "Raman Shift (cm⁻¹)"}},
    "y": {"field": "v", "type": "quantitative", "scale": {"domain": [0, 279], "nice": false, "zero": false}, "axis": null},
    "color": {"field": "s", "type": "nominal", "scale": {"domain": ["r", "c"], "range": ["#4B4B4B", "#F03A3C"]}, "legend": null}}},
  {"data": {"name": "peaks"}, "transform": [{"filter": "datum.p == 'a'"}], "mark": {"type": "text", "fontSize": 19, "baseline": "middle"}, "encoding": {"x": {"field": "x", "type": "quantitative"}, "y": {"field": "y", "type": "quantitative"}, "text": {"value": "P"}}},
  {"data": {"name": "peaks"}, "transform": [{"filter": "datum.p == 'a' && datum.s != '*'"}], "mark": {"type": "text", "fontSize": 13, "align": "left", "baseline": "middle", "dx": 6, "dy": 7}, "encoding": {"x": {"field": "x", "type": "quantitative"}, "y": {"field": "y", "type": "quantitative"}, "text": {"field": "s"}}},
  {"data": {"name": "peaks"}, "transform": [{"filter": "datum.p == 'a' && datum.s == '*'"}], "mark": {"type": "text", "fontSize": 13, "align": "left", "baseline": "middle", "dx": 6, "dy": -3}, "encoding": {"x": {"field": "x", "type": "quantitative"}, "y": {"field": "y", "type": "quantitative"}, "text": {"field": "s"}}},
  {"data": {"name": "press"}, "transform": [{"filter": "datum.p == 'a'"}], "mark": {"type": "text", "fontSize": 25, "align": "right", "baseline": "middle"}, "encoding": {"x": {"field": "x", "type": "quantitative"}, "y": {"field": "y", "type": "quantitative"}, "text": {"field": "t"}}},
  {"data": {"name": "tags"}, "transform": [{"filter": "datum.p == 'a'"}], "mark": {"type": "text", "fontSize": 25, "align": "right", "baseline": "middle"}, "encoding": {"x": {"field": "x", "type": "quantitative"}, "y": {"field": "y", "type": "quantitative"}, "text": {"field": "t"}}}
 ]},
{"width": 377, "height": 279, "title": {"text": "Thick", "dx": 8},
 "layer": [
  {"data": {"name": "spec"}, "transform": [{"filter": "datum.p == 'c'"}, {"fold": ["r", "c"], "as": ["s", "v"]}],
   "mark": {"type": "line", "strokeWidth": 1.8, "clip": true},
   "encoding": {
    "x": {"field": "x", "type": "quantitative", "scale": {"domain": [84, 551], "nice": false, "zero": false}, "axis": {"values": [100, 200, 300, 400, 500], "title": "Raman Shift (cm⁻¹)"}},
    "y": {"field": "v", "type": "quantitative", "scale": {"domain": [0, 279], "nice": false, "zero": false}, "axis": null},
    "color": {"field": "s", "type": "nominal", "scale": {"domain": ["r", "c"], "range": ["#4B4B4B", "#F03A3C"]}, "legend": null}}},
  {"data": {"name": "peaks"}, "transform": [{"filter": "datum.p == 'c'"}], "mark": {"type": "text", "fontSize": 19, "baseline": "middle"}, "encoding": {"x": {"field": "x", "type": "quantitative"}, "y": {"field": "y", "type": "quantitative"}, "text": {"value": "P"}}},
  {"data": {"name": "peaks"}, "transform": [{"filter": "datum.p == 'c' && datum.s != '*'"}], "mark": {"type": "text", "fontSize": 13, "align": "left", "baseline": "middle", "dx": 6, "dy": 7}, "encoding": {"x": {"field": "x", "type": "quantitative"}, "y": {"field": "y", "type": "quantitative"}, "text": {"field": "s"}}},
  {"data": {"name": "peaks"}, "transform": [{"filter": "datum.p == 'c' && datum.s == '*'"}], "mark": {"type": "text", "fontSize": 13, "align": "left", "baseline": "middle", "dx": 6, "dy": -3}, "encoding": {"x": {"field": "x", "type": "quantitative"}, "y": {"field": "y", "type": "quantitative"}, "text": {"field": "s"}}},
  {"data": {"name": "press"}, "transform": [{"filter": "datum.p == 'c'"}], "mark": {"type": "text", "fontSize": 25, "align": "right", "baseline": "middle"}, "encoding": {"x": {"field": "x", "type": "quantitative"}, "y": {"field": "y", "type": "quantitative"}, "text": {"field": "t"}}},
  {"data": {"name": "tags"}, "transform": [{"filter": "datum.p == 'c'"}], "mark": {"type": "text", "fontSize": 25, "align": "right", "baseline": "middle"}, "encoding": {"x": {"field": "x", "type": "quantitative"}, "y": {"field": "y", "type": "quantitative"}, "text": {"field": "t"}}}
 ]},
{"width": 377, "height": 279, "title": {"text": "Thin", "dx": 12},
 "layer": [
  {"data": {"name": "spec"}, "transform": [{"filter": "datum.p == 'e'"}, {"fold": ["r", "c"], "as": ["s", "v"]}],
   "mark": {"type": "line", "strokeWidth": 1.8, "clip": true},
   "encoding": {
    "x": {"field": "x", "type": "quantitative", "scale": {"domain": [84, 551], "nice": false, "zero": false}, "axis": {"values": [100, 200, 300, 400, 500], "title": "Raman Shift (cm⁻¹)"}},
    "y": {"field": "v", "type": "quantitative", "scale": {"domain": [0, 279], "nice": false, "zero": false}, "axis": null},
    "color": {"field": "s", "type": "nominal", "scale": {"domain": ["r", "c"], "range": ["#4B4B4B", "#F03A3C"]}, "legend": null}}},
  {"data": {"name": "peaks"}, "transform": [{"filter": "datum.p == 'e'"}], "mark": {"type": "text", "fontSize": 19, "baseline": "middle"}, "encoding": {"x": {"field": "x", "type": "quantitative"}, "y": {"field": "y", "type": "quantitative"}, "text": {"value": "P"}}},
  {"data": {"name": "peaks"}, "transform": [{"filter": "datum.p == 'e' && datum.s != '*'"}], "mark": {"type": "text", "fontSize": 13, "align": "left", "baseline": "middle", "dx": 6, "dy": 7}, "encoding": {"x": {"field": "x", "type": "quantitative"}, "y": {"field": "y", "type": "quantitative"}, "text": {"field": "s"}}},
  {"data": {"name": "peaks"}, "transform": [{"filter": "datum.p == 'e' && datum.s == '*'"}], "mark": {"type": "text", "fontSize": 13, "align": "left", "baseline": "middle", "dx": 6, "dy": -3}, "encoding": {"x": {"field": "x", "type": "quantitative"}, "y": {"field": "y", "type": "quantitative"}, "text": {"field": "s"}}},
  {"data": {"name": "press"}, "transform": [{"filter": "datum.p == 'e'"}], "mark": {"type": "text", "fontSize": 25, "align": "right", "baseline": "middle"}, "encoding": {"x": {"field": "x", "type": "quantitative"}, "y": {"field": "y", "type": "quantitative"}, "text": {"field": "t"}}},
  {"data": {"name": "tags"}, "transform": [{"filter": "datum.p == 'e'"}], "mark": {"type": "text", "fontSize": 25, "align": "right", "baseline": "middle"}, "encoding": {"x": {"field": "x", "type": "quantitative"}, "y": {"field": "y", "type": "quantitative"}, "text": {"field": "t"}}}
 ]},
{"width": 377, "height": 279,
 "layer": [
  {"data": {"name": "spec"}, "transform": [{"filter": "datum.p == 'b'"}, {"fold": ["r", "c"], "as": ["s", "v"]}],
   "mark": {"type": "line", "strokeWidth": 1.8, "clip": true},
   "encoding": {
    "x": {"field": "x", "type": "quantitative", "scale": {"domain": [84, 551], "nice": false, "zero": false}, "axis": {"values": [100, 200, 300, 400, 500], "title": "Raman Shift (cm⁻¹)"}},
    "y": {"field": "v", "type": "quantitative", "scale": {"domain": [0, 279], "nice": false, "zero": false}, "axis": null},
    "color": {"field": "s", "type": "nominal", "scale": {"domain": ["r", "c"], "range": ["#4B4B4B", "#F03A3C"]},
      "legend": {"orient": "none", "legendX": 14, "legendY": 35, "title": null, "labelExpr": "datum.value == 'r' ? 'Raw spectrum' : 'Baseline corrected'", "labelFont": "Liberation Serif", "labelFontSize": 17, "labelColor": "black", "labelLimit": 300, "symbolType": "stroke", "symbolSize": 1600, "symbolStrokeWidth": 2, "labelOffset": 4, "clipHeight": 21, "rowPadding": 0}}}},
  {"data": {"name": "legline"}, "mark": {"type": "text", "fontSize": 17, "align": "left", "baseline": "middle"}, "encoding": {"x": {"field": "x", "type": "quantitative"}, "y": {"field": "y", "type": "quantitative"}, "text": {"field": "t"}}},
  {"data": {"name": "peaks"}, "transform": [{"filter": "datum.p == 'b'"}], "mark": {"type": "text", "fontSize": 19, "baseline": "middle"}, "encoding": {"x": {"field": "x", "type": "quantitative"}, "y": {"field": "y", "type": "quantitative"}, "text": {"value": "P"}}},
  {"data": {"name": "peaks"}, "transform": [{"filter": "datum.p == 'b' && datum.s != '*'"}], "mark": {"type": "text", "fontSize": 13, "align": "left", "baseline": "middle", "dx": 6, "dy": 7}, "encoding": {"x": {"field": "x", "type": "quantitative"}, "y": {"field": "y", "type": "quantitative"}, "text": {"field": "s"}}},
  {"data": {"name": "peaks"}, "transform": [{"filter": "datum.p == 'b' && datum.s == '*'"}], "mark": {"type": "text", "fontSize": 13, "align": "left", "baseline": "middle", "dx": 6, "dy": -3}, "encoding": {"x": {"field": "x", "type": "quantitative"}, "y": {"field": "y", "type": "quantitative"}, "text": {"field": "s"}}},
  {"data": {"name": "press"}, "transform": [{"filter": "datum.p == 'b'"}], "mark": {"type": "text", "fontSize": 25, "align": "right", "baseline": "middle"}, "encoding": {"x": {"field": "x", "type": "quantitative"}, "y": {"field": "y", "type": "quantitative"}, "text": {"field": "t"}}},
  {"data": {"name": "tags"}, "transform": [{"filter": "datum.p == 'b'"}], "mark": {"type": "text", "fontSize": 25, "align": "right", "baseline": "middle"}, "encoding": {"x": {"field": "x", "type": "quantitative"}, "y": {"field": "y", "type": "quantitative"}, "text": {"field": "t"}}}
 ]},
{"width": 377, "height": 279,
 "layer": [
  {"data": {"name": "spec"}, "transform": [{"filter": "datum.p == 'd'"}, {"fold": ["r", "c"], "as": ["s", "v"]}],
   "mark": {"type": "line", "strokeWidth": 1.8, "clip": true},
   "encoding": {
    "x": {"field": "x", "type": "quantitative", "scale": {"domain": [84, 551], "nice": false, "zero": false}, "axis": {"values": [100, 200, 300, 400, 500], "title": "Raman Shift (cm⁻¹)"}},
    "y": {"field": "v", "type": "quantitative", "scale": {"domain": [0, 279], "nice": false, "zero": false}, "axis": null},
    "color": {"field": "s", "type": "nominal", "scale": {"domain": ["r", "c"], "range": ["#4B4B4B", "#F03A3C"]}, "legend": null}}},
  {"data": {"name": "peaks"}, "transform": [{"filter": "datum.p == 'd'"}], "mark": {"type": "text", "fontSize": 19, "baseline": "middle"}, "encoding": {"x": {"field": "x", "type": "quantitative"}, "y": {"field": "y", "type": "quantitative"}, "text": {"value": "P"}}},
  {"data": {"name": "peaks"}, "transform": [{"filter": "datum.p == 'd' && datum.s != '*'"}], "mark": {"type": "text", "fontSize": 13, "align": "left", "baseline": "middle", "dx": 6, "dy": 7}, "encoding": {"x": {"field": "x", "type": "quantitative"}, "y": {"field": "y", "type": "quantitative"}, "text": {"field": "s"}}},
  {"data": {"name": "peaks"}, "transform": [{"filter": "datum.p == 'd' && datum.s == '*'"}], "mark": {"type": "text", "fontSize": 13, "align": "left", "baseline": "middle", "dx": 6, "dy": -3}, "encoding": {"x": {"field": "x", "type": "quantitative"}, "y": {"field": "y", "type": "quantitative"}, "text": {"field": "s"}}},
  {"data": {"name": "press"}, "transform": [{"filter": "datum.p == 'd'"}], "mark": {"type": "text", "fontSize": 25, "align": "right", "baseline": "middle"}, "encoding": {"x": {"field": "x", "type": "quantitative"}, "y": {"field": "y", "type": "quantitative"}, "text": {"field": "t"}}},
  {"data": {"name": "tags"}, "transform": [{"filter": "datum.p == 'd'"}], "mark": {"type": "text", "fontSize": 25, "align": "right", "baseline": "middle"}, "encoding": {"x": {"field": "x", "type": "quantitative"}, "y": {"field": "y", "type": "quantitative"}, "text": {"field": "t"}}}
 ]},
{"width": 377, "height": 279,
 "layer": [
  {"data": {"name": "spec"}, "transform": [{"filter": "datum.p == 'f'"}, {"fold": ["r", "c"], "as": ["s", "v"]}],
   "mark": {"type": "line", "strokeWidth": 1.8, "clip": true},
   "encoding": {
    "x": {"field": "x", "type": "quantitative", "scale": {"domain": [84, 551], "nice": false, "zero": false}, "axis": {"values": [100, 200, 300, 400, 500], "title": "Raman Shift (cm⁻¹)"}},
    "y": {"field": "v", "type": "quantitative", "scale": {"domain": [0, 279], "nice": false, "zero": false}, "axis": null},
    "color": {"field": "s", "type": "nominal", "scale": {"domain": ["r", "c"], "range": ["#4B4B4B", "#F03A3C"]}, "legend": null}}},
  {"data": {"name": "peaks"}, "transform": [{"filter": "datum.p == 'f'"}], "mark": {"type": "text", "fontSize": 19, "baseline": "middle"}, "encoding": {"x": {"field": "x", "type": "quantitative"}, "y": {"field": "y", "type": "quantitative"}, "text": {"value": "P"}}},
  {"data": {"name": "peaks"}, "transform": [{"filter": "datum.p == 'f' && datum.s != '*'"}], "mark": {"type": "text", "fontSize": 13, "align": "left", "baseline": "middle", "dx": 6, "dy": 7}, "encoding": {"x": {"field": "x", "type": "quantitative"}, "y": {"field": "y", "type": "quantitative"}, "text": {"field": "s"}}},
  {"data": {"name": "peaks"}, "transform": [{"filter": "datum.p == 'f' && datum.s == '*'"}], "mark": {"type": "text", "fontSize": 13, "align": "left", "baseline": "middle", "dx": 6, "dy": -3}, "encoding": {"x": {"field": "x", "type": "quantitative"}, "y": {"field": "y", "type": "quantitative"}, "text": {"field": "s"}}},
  {"data": {"name": "press"}, "transform": [{"filter": "datum.p == 'f'"}], "mark": {"type": "text", "fontSize": 25, "align": "right", "baseline": "middle"}, "encoding": {"x": {"field": "x", "type": "quantitative"}, "y": {"field": "y", "type": "quantitative"}, "text": {"field": "t"}}},
  {"data": {"name": "tags"}, "transform": [{"filter": "datum.p == 'f'"}], "mark": {"type": "text", "fontSize": 25, "align": "right", "baseline": "middle"}, "encoding": {"x": {"field": "x", "type": "quantitative"}, "y": {"field": "y", "type": "quantitative"}, "text": {"field": "t"}}}
 ]}
]
}
